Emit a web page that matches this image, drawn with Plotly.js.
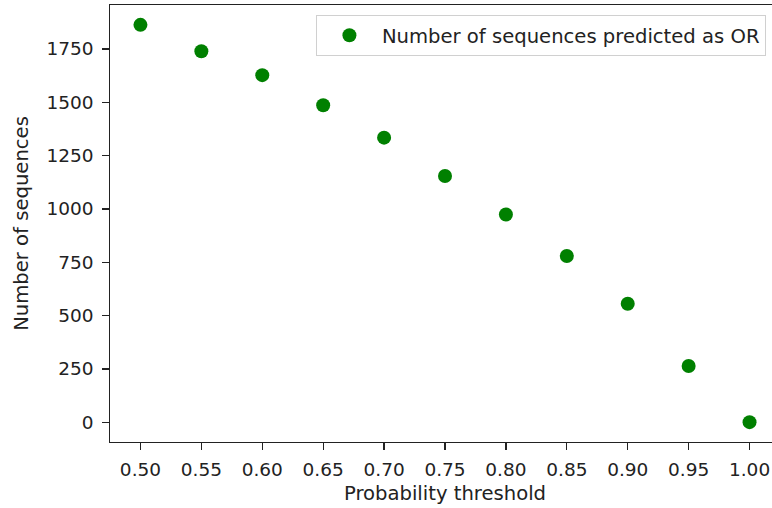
<!DOCTYPE html>
<html>
<head>
<meta charset="utf-8">
<script src="https://cdn.plot.ly/plotly-3.0.1.min.js"></script>
<style>
  html, body { margin: 0; padding: 0; background: #fff; overflow: hidden; }
  #chart { width: 800px; height: 508px; }
</style>
</head>
<body>
<div id="chart"></div>
<script>
// Probability thresholds and how many sequences pass each one
const thresholds = [0.50, 0.55, 0.60, 0.65, 0.70, 0.75, 0.80, 0.85, 0.90, 0.95, 1.00];
const counts = [1863, 1739, 1627, 1486, 1334, 1154, 974, 779, 555, 263, 0];
const xTickLabels = ['0.50', '0.55', '0.60', '0.65', '0.70', '0.75', '0.80', '0.85', '0.90', '0.95', '1.00'];
const yTickValues = [0, 250, 500, 750, 1000, 1250, 1500, 1750];
const seriesName = 'Number of sequences predicted as OR';

const FONT = 'DejaVu Sans, sans-serif';
const INK = '#222222';
const TICK_FS = 18.5;
const LABEL_FS = 19.6;

const trace = {
  type: 'scatter',
  mode: 'markers',
  x: thresholds,
  y: counts,
  name: seriesName,
  marker: { color: '#008000', size: 14 },
  hoverinfo: 'x+y'
};

const axisCommon = {
  showgrid: false,
  zeroline: false,
  showline: true,
  mirror: true,
  linecolor: INK,
  linewidth: 1.3,
  ticks: 'outside',
  ticklen: 6.5,
  tickwidth: 1.3,
  tickcolor: INK,
  tickfont: { family: FONT, size: TICK_FS, color: INK },
  automargin: false
};

const layout = {
  width: 800,
  height: 508,
  margin: { l: 110, r: 20, t: 5, b: 66 },
  paper_bgcolor: '#ffffff',
  plot_bgcolor: '#ffffff',
  font: { family: FONT, size: LABEL_FS, color: INK },
  showlegend: true,
  legend: {
    x: 0.979, xanchor: 'right',
    y: 0.977, yanchor: 'top',
    bgcolor: 'rgba(255,255,255,0.8)',
    bordercolor: '#d0d0d0',
    borderwidth: 1,
    font: { family: FONT, size: LABEL_FS, color: INK },
    itemwidth: 55
  },
  xaxis: Object.assign({}, axisCommon, {
    range: [0.475, 1.025],
    tickvals: thresholds,
    ticktext: xTickLabels,
    ticklabelstandoff: 4,
    title: { text: 'Probability threshold', font: { family: FONT, size: LABEL_FS, color: INK }, standoff: 7 }
  }),
  yaxis: Object.assign({}, axisCommon, {
    range: [-93, 1956],
    tickvals: yTickValues,
    ticktext: yTickValues.map(String),
    ticklabelstandoff: 5,
    title: { text: 'Number of sequences', font: { family: FONT, size: LABEL_FS, color: INK }, standoff: 12 }
  })
};

Plotly.newPlot('chart', [trace], layout, { displayModeBar: false, staticPlot: true });
</script>
</body>
</html>
